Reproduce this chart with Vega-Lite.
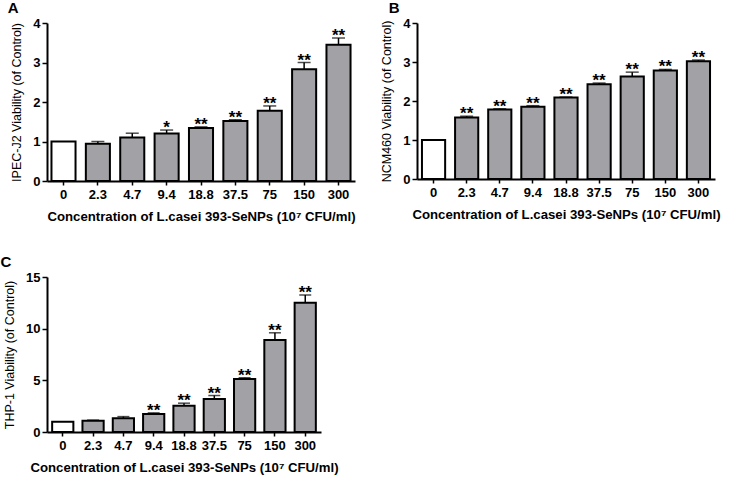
{
  "$schema": "https://vega.github.io/schema/vega-lite/v6.json",
  "background": "white",
  "padding": {"left": 0, "top": 1, "right": 0, "bottom": 5},
  "datasets": {
    "A": [
      {"conc": "0", "v": 1.0, "hi": 1.0, "sig": ""},
      {"conc": "2.3", "v": 0.94, "hi": 1.0, "sig": ""},
      {"conc": "4.7", "v": 1.1, "hi": 1.21, "sig": ""},
      {"conc": "9.4", "v": 1.2, "hi": 1.29, "sig": "*"},
      {"conc": "18.8", "v": 1.34, "hi": 1.37, "sig": "**"},
      {"conc": "37.5", "v": 1.52, "hi": 1.55, "sig": "**"},
      {"conc": "75", "v": 1.78, "hi": 1.9, "sig": "**"},
      {"conc": "150", "v": 2.83, "hi": 3.0, "sig": "**"},
      {"conc": "300", "v": 3.45, "hi": 3.62, "sig": "**"}
    ],
    "B": [
      {"conc": "0", "v": 1.0, "hi": 1.0, "sig": ""},
      {"conc": "2.3", "v": 1.58, "hi": 1.61, "sig": "**"},
      {"conc": "4.7", "v": 1.78, "hi": 1.8, "sig": "**"},
      {"conc": "9.4", "v": 1.85, "hi": 1.88, "sig": "**"},
      {"conc": "18.8", "v": 2.09, "hi": 2.1, "sig": "**"},
      {"conc": "37.5", "v": 2.43, "hi": 2.46, "sig": "**"},
      {"conc": "75", "v": 2.63, "hi": 2.74, "sig": "**"},
      {"conc": "150", "v": 2.78, "hi": 2.81, "sig": "**"},
      {"conc": "300", "v": 3.02, "hi": 3.05, "sig": "**"}
    ],
    "C": [
      {"conc": "0", "v": 1.0, "hi": 1.0, "sig": ""},
      {"conc": "2.3", "v": 1.1, "hi": 1.15, "sig": ""},
      {"conc": "4.7", "v": 1.33, "hi": 1.49, "sig": ""},
      {"conc": "9.4", "v": 1.75, "hi": 1.85, "sig": "**"},
      {"conc": "18.8", "v": 2.53, "hi": 2.79, "sig": "**"},
      {"conc": "37.5", "v": 3.2, "hi": 3.53, "sig": "**"},
      {"conc": "75", "v": 5.12, "hi": 5.25, "sig": "**"},
      {"conc": "150", "v": 8.9, "hi": 9.6, "sig": "**"},
      {"conc": "300", "v": 12.5, "hi": 13.25, "sig": "**"}
    ]
  },
  "vconcat": [
    {
      "hconcat": [
        {
          "title": {"text": "A", "anchor": "start", "frame": "bounds", "offset": 1, "dx": -3},
          "width": 308,
          "height": 158,
          "data": {"name": "A"},
          "encoding": {
            "x": {"field": "conc", "type": "ordinal", "sort": ["0", "2.3", "4.7", "9.4", "18.8", "37.5", "75", "150", "300"],
                  "scale": {"paddingInner": 0.3, "paddingOuter": 0.13},
                  "axis": {"title": "Concentration of L.casei 393-SeNPs (10⁷ CFU/ml)"}},
            "y": {"field": "v", "type": "quantitative", "scale": {"domain": [0, 4], "nice": false},
                  "axis": {"title": "IPEC-J2 Viability (of Control)", "values": [0, 1, 2, 3, 4]}}
          },
          "layer": [
            {"mark": {"type": "rule", "color": "black", "strokeWidth": 1.5},
             "transform": [{"filter": "datum.hi > datum.v"}],
             "encoding": {"y2": {"field": "hi"}}},
            {"mark": {"type": "tick", "color": "black", "thickness": 1.5, "size": 13, "orient": "horizontal"},
             "transform": [{"filter": "datum.hi > datum.v"}],
             "encoding": {"y": {"field": "hi", "type": "quantitative"}}},
            {"mark": {"type": "bar", "stroke": "black", "strokeWidth": 2},
             "encoding": {"fill": {"condition": {"test": "datum.conc === '0'", "value": "white"}, "value": "#a2a2a6"}}},
            {"mark": {"type": "text", "font": "Liberation Sans", "fontWeight": "bold", "fontSize": 17, "baseline": "alphabetic", "dy": 3, "color": "black"},
             "encoding": {"y": {"field": "hi", "type": "quantitative"}, "text": {"field": "sig"}}}
          ]
        },
        {
          "title": {"text": "B", "anchor": "start", "frame": "bounds", "offset": 1, "dx": 8},
          "width": 298,
          "height": 156,
          "data": {"name": "B"},
          "encoding": {
            "x": {"field": "conc", "type": "ordinal", "sort": ["0", "2.3", "4.7", "9.4", "18.8", "37.5", "75", "150", "300"],
                  "scale": {"paddingInner": 0.3, "paddingOuter": 0.15},
                  "axis": {"title": "Concentration of L.casei 393-SeNPs (10⁷ CFU/ml)"}},
            "y": {"field": "v", "type": "quantitative", "scale": {"domain": [0, 4], "nice": false},
                  "axis": {"title": "NCM460 Viability (of Control)", "values": [0, 1, 2, 3, 4]}}
          },
          "layer": [
            {"mark": {"type": "rule", "color": "black", "strokeWidth": 1.5},
             "transform": [{"filter": "datum.hi > datum.v"}],
             "encoding": {"y2": {"field": "hi"}}},
            {"mark": {"type": "tick", "color": "black", "thickness": 1.5, "size": 13, "orient": "horizontal"},
             "transform": [{"filter": "datum.hi > datum.v"}],
             "encoding": {"y": {"field": "hi", "type": "quantitative"}}},
            {"mark": {"type": "bar", "stroke": "black", "strokeWidth": 2},
             "encoding": {"fill": {"condition": {"test": "datum.conc === '0'", "value": "white"}, "value": "#a2a2a6"}}},
            {"mark": {"type": "text", "font": "Liberation Sans", "fontWeight": "bold", "fontSize": 17, "baseline": "alphabetic", "dy": 3, "color": "black"},
             "encoding": {"y": {"field": "hi", "type": "quantitative"}, "text": {"field": "sig"}}}
          ]
        }
      ]
    },
    {
      "title": {"text": "C", "anchor": "start", "frame": "bounds", "offset": 1, "dx": -3},
      "width": 274,
      "height": 155,
      "data": {"name": "C"},
      "encoding": {
        "x": {"field": "conc", "type": "ordinal", "sort": ["0", "2.3", "4.7", "9.4", "18.8", "37.5", "75", "150", "300"],
              "scale": {"paddingInner": 0.3, "paddingOuter": 0.17},
              "axis": {"title": "Concentration of L.casei 393-SeNPs (10⁷ CFU/ml)"}},
        "y": {"field": "v", "type": "quantitative", "scale": {"domain": [0, 15], "nice": false},
              "axis": {"title": "THP-1 Viability (of Control)", "values": [0, 5, 10, 15]}}
      },
      "layer": [
        {"mark": {"type": "rule", "color": "black", "strokeWidth": 1.5},
         "transform": [{"filter": "datum.hi > datum.v"}],
         "encoding": {"y2": {"field": "hi"}}},
        {"mark": {"type": "tick", "color": "black", "thickness": 1.5, "size": 12, "orient": "horizontal"},
         "transform": [{"filter": "datum.hi > datum.v"}],
         "encoding": {"y": {"field": "hi", "type": "quantitative"}}},
        {"mark": {"type": "bar", "stroke": "black", "strokeWidth": 2},
         "encoding": {"fill": {"condition": {"test": "datum.conc === '0'", "value": "white"}, "value": "#a2a2a6"}}},
        {"mark": {"type": "text", "font": "Liberation Sans", "fontWeight": "bold", "fontSize": 17, "baseline": "alphabetic", "dy": 3, "color": "black"},
         "encoding": {"y": {"field": "hi", "type": "quantitative"}, "text": {"field": "sig"}}}
      ]
    }
  ],
  "spacing": 32,
  "config": {
    "concat": {"spacing": 24},
    "view": {"stroke": null},
    "title": {"font": "Liberation Sans", "fontWeight": "bold", "fontSize": 15, "color": "black", "baseline": "top"},
    "axis": {
      "grid": false,
      "domainColor": "black",
      "domainWidth": 2,
      "tickColor": "black",
      "tickWidth": 1.5,
      "tickSize": 5,
      "labelFont": "Liberation Sans",
      "labelFontWeight": "bold",
      "labelFontSize": 13,
      "labelColor": "black",
      "titleFont": "Liberation Sans",
      "titleFontWeight": "bold",
      "titleFontSize": 13.2,
      "titleColor": "black"
    },
    "axisX": {"labelAngle": 0, "labelPadding": 3, "titlePadding": 9, "tickSize": 4},
    "axisY": {"titlePadding": 9, "labelPadding": 2, "titleFontWeight": "normal", "titleFontSize": 12.5}
  }
}
